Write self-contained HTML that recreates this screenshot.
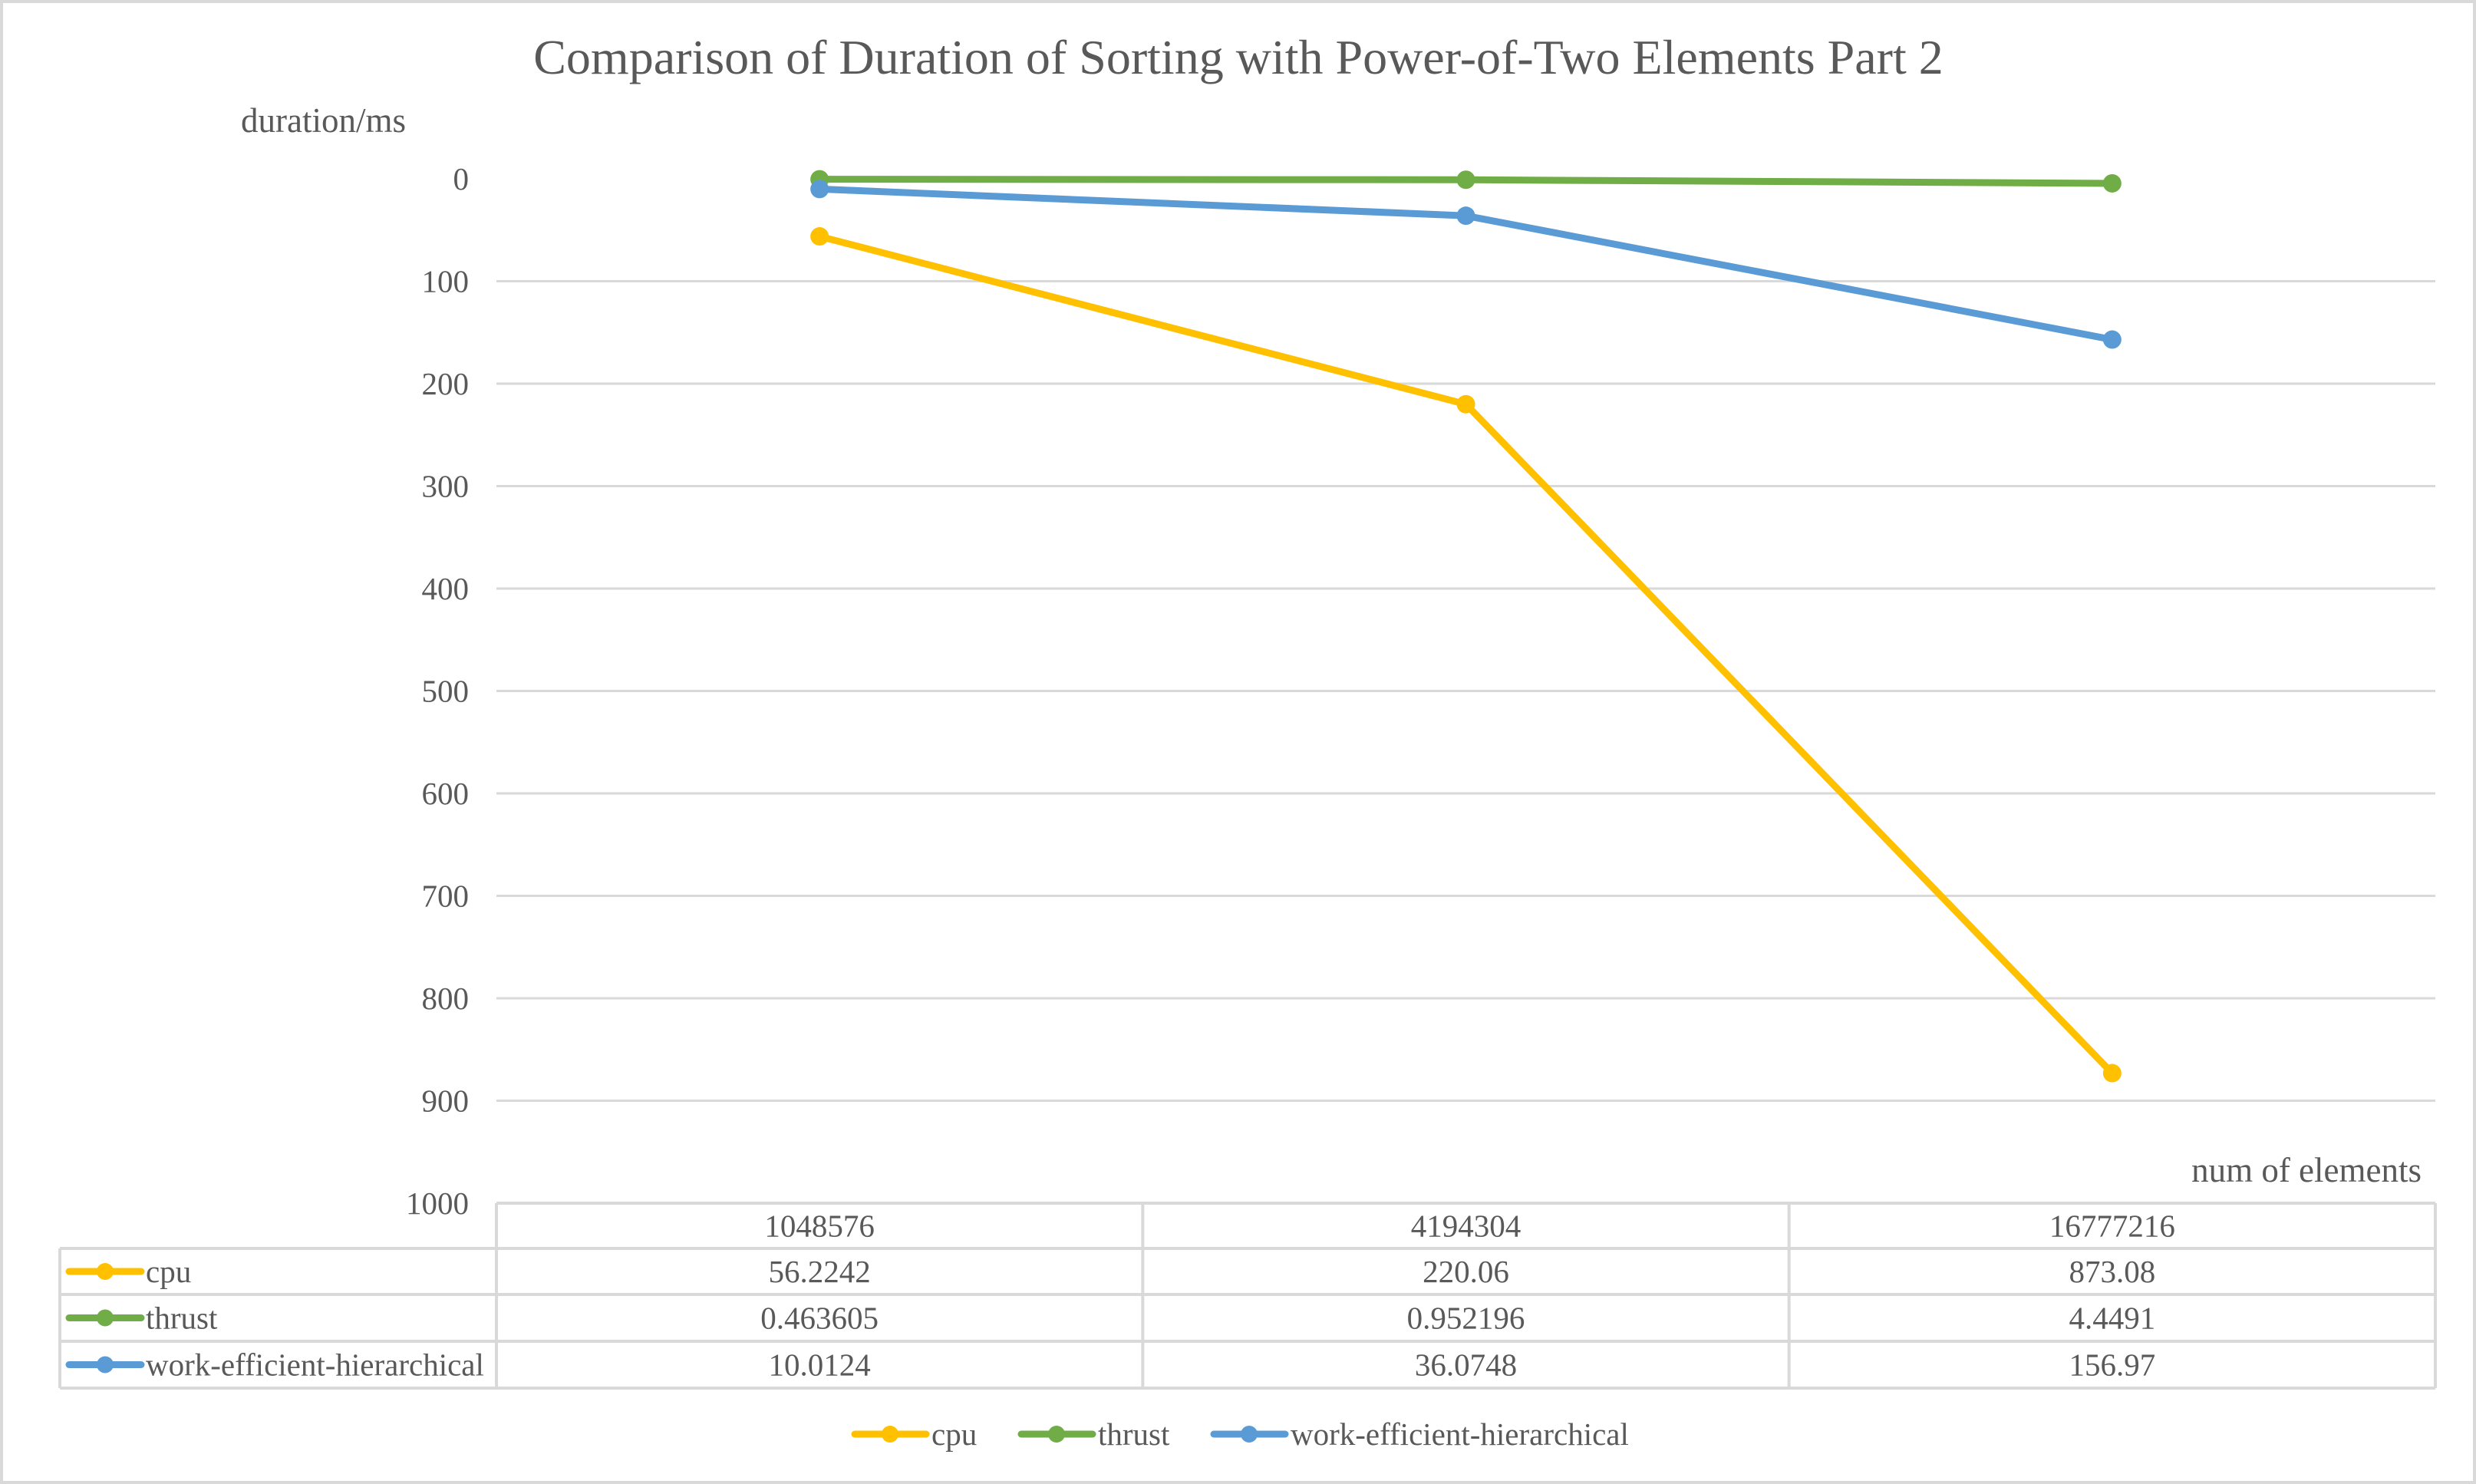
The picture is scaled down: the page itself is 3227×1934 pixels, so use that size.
<!DOCTYPE html>
<html><head><meta charset="utf-8"><style>
html,body{margin:0;padding:0;background:#fff;}
svg{display:block;font-family:"Liberation Serif",serif;}
</style></head><body>
<svg id="chart" width="3227" height="1934" viewBox="0 0 3227 1934" xmlns="http://www.w3.org/2000/svg">
<rect x="2" y="2" width="3223" height="1930" fill="#fff" stroke="#d9d9d9" stroke-width="4"/>
<text x="1614" y="96" text-anchor="middle" font-size="64" fill="#595959">Comparison of Duration of Sorting with Power-of-Two Elements Part 2</text>
<text x="314" y="172" font-size="45" fill="#595959">duration/ms</text>
<text x="3156" y="1540" text-anchor="end" font-size="45" fill="#595959">num of elements</text>
<g id="grid"></g><g id="ylabels"></g><g id="table"></g><g id="series"></g><g id="legend"></g>
</svg>
<script>
const categories = ["1048576", "4194304", "16777216"];
const seriesNames = ["cpu", "thrust", "work-efficient-hierarchical"];
const cpuValues = [56.2242, 220.06, 873.08];
const thrustValues = [0.463605, 0.952196, 4.4491];
const wefValues = [10.0124, 36.0748, 156.97];
const cpuLabels = ["56.2242", "220.06", "873.08"];
const thrustLabels = ["0.463605", "0.952196", "4.4491"];
const wefLabels = ["10.0124", "36.0748", "156.97"];
const yTicks = [0, 100, 200, 300, 400, 500, 600, 700, 800, 900, 1000];

const NS = "http://www.w3.org/2000/svg";
const plotL = 647, plotR = 3174, y0 = 233, y1000 = 1568;
const colW = (plotR - plotL) / categories.length;
function yScale(v){ return y0 + (v / 1000) * (y1000 - y0); }
function xScale(i){ return plotL + colW * (i + 0.5); }
function mk(tag, attrs, parent){ const e = document.createElementNS(NS, tag); for (const k in attrs) e.setAttribute(k, attrs[k]); parent.appendChild(e); return e; }

const grid = document.getElementById('grid');
const ylab = document.getElementById('ylabels');
yTicks.forEach(t => {
  if (t > 0 && t < 1000) {
    const l = mk('line', {x1: plotL, x2: plotR, y1: yScale(t), y2: yScale(t), stroke: '#d9d9d9', 'stroke-width': 3}, grid);
    
    
  }
  const tx = mk('text', {x: 611, y: yScale(t) + 14, 'text-anchor': 'end', 'font-size': 41, fill: '#595959'}, ylab);
  tx.textContent = t;
  
  
});

const tbl = document.getElementById('table');
const rowY = [1568, 1627, 1687, 1748, 1809];
const colors = ["#ffc000", "#70ad47", "#5b9bd5"];
const allLabels = [cpuLabels, thrustLabels, wefLabels];
const tc = '#d9d9d9';
function line(x1,y1,x2,y2){ const l = mk('line',{x1,y1,x2,y2,stroke:tc,'stroke-width':4},tbl);
  
   }
line(plotL, rowY[0], plotR, rowY[0]);
for (let r = 1; r < 5; r++) line(78, rowY[r], plotR, rowY[r]);
line(78, rowY[1], 78, rowY[4]);
for (let c = 0; c <= 3; c++) line(plotL + colW*c, rowY[0], plotL + colW*c, rowY[4]);
categories.forEach((c, i) => {
  const t = mk('text', {x: xScale(i), y: (rowY[0]+rowY[1])/2 + 14, 'text-anchor':'middle','font-size':41, fill:'#595959'}, tbl);
  t.textContent = c;
  
  
});
seriesNames.forEach((n, s) => {
  const cy = (rowY[s+1] + rowY[s+2]) / 2;
  const l = mk('line', {x1: 90, x2: 184, y1: cy, y2: cy, stroke: colors[s], 'stroke-width': 9, 'stroke-linecap':'round'}, tbl);
  
  
  const m = mk('circle', {cx: 137, cy: cy, r: 11, fill: colors[s]}, tbl);
  
  
  const t = mk('text', {x: 190, y: cy + 14, 'font-size': 41, fill: '#595959'}, tbl);
  t.textContent = n;
  
  
  allLabels[s].forEach((v, i) => {
    const tv = mk('text', {x: xScale(i), y: cy + 14, 'text-anchor':'middle','font-size':41, fill:'#595959'}, tbl);
    tv.textContent = v;
    
    
  });
});

const ser = document.getElementById('series');
const allValues = [cpuValues, thrustValues, wefValues];
[1, 2, 0].forEach(s => {
  const vals = allValues[s];
  const pts = vals.map((v, i) => xScale(i) + ',' + yScale(v)).join(' ');
  const pl = mk('polyline', {points: pts, fill: 'none', stroke: colors[s], 'stroke-width': 9, 'stroke-linejoin': 'round'}, ser);
  
  
  vals.forEach((v, i) => {
    const c = mk('circle', {cx: xScale(i), cy: yScale(v), r: 12, fill: colors[s]}, ser);
    
    
  });
});

const leg = document.getElementById('legend');
const legX = [1114, 1331, 1582];
const legY = 1869;
seriesNames.forEach((n, s) => {
  const l = mk('line', {x1: legX[s], x2: legX[s] + 93, y1: legY, y2: legY, stroke: colors[s], 'stroke-width': 9, 'stroke-linecap':'round'}, leg);
  
  
  const m = mk('circle', {cx: legX[s] + 46, cy: legY, r: 11, fill: colors[s]}, leg);
  
  
  const t = mk('text', {x: legX[s] + 100, y: legY + 14, 'font-size': 41, fill: '#595959'}, leg);
  t.textContent = n;
  
  
});
</script>
</body></html>
